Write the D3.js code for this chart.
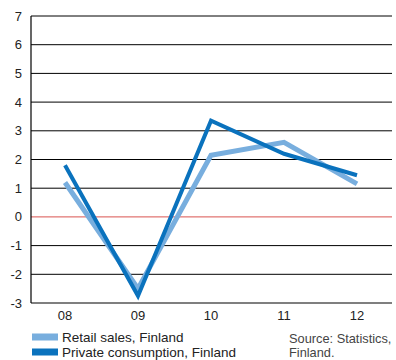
<!DOCTYPE html>
<html>
<head>
<meta charset="utf-8">
<script src="https://cdn.jsdelivr.net/npm/d3@7"></script>
<style>
  html, body { margin: 0; padding: 0; background: #fff; }
  svg { display: block; font-family: "Liberation Sans", Arial, sans-serif; }
</style>
</head>
<body>
<svg id="chart" width="396" height="360"></svg>
<script>
// Years on the x axis
const years = ["08", "09", "10", "11", "12"];
// Annual change, %
const retailSales = [1.2, -2.5, 2.15, 2.6, 1.15];
const privateConsumption = [1.8, -2.75, 3.35, 2.2, 1.45];
// y-axis ticks
const yTicks = [7, 6, 5, 4, 3, 2, 1, 0, -1, -2, -3];

const seriesNames = ["Retail sales, Finland", "Private consumption, Finland"];
const seriesColors = ["#78aede", "#0a72bd"];
const seriesWidths = [5, 4];

const svg = d3.select("#chart");
const plotLeft = 31, plotRight = 392, plotTop = 16, plotBottom = 303;

const x = d3.scalePoint().domain(years).range([65, 357]);
const y = d3.scaleLinear().domain([-3, 7]).range([plotBottom, plotTop]);

// Horizontal gridlines
svg.append("g").selectAll("line")
  .data(yTicks.filter(d => d !== -3))
  .join("line")
  .attr("x1", plotLeft).attr("x2", plotRight)
  .attr("y1", d => y(d)).attr("y2", d => y(d))
  .attr("stroke", d => d === 0 ? "#d9534f" : "#000")
  .attr("stroke-width", 1);

// Y tick labels
svg.append("g").selectAll("text")
  .data(yTicks)
  .join("text")
  .attr("x", 22).attr("y", d => y(d) + 4.5)
  .attr("text-anchor", "end")
  .attr("font-size", 13)
  .attr("fill", "#222")
  .text(d => d);

// Axis lines
svg.append("line").attr("x1", plotLeft).attr("x2", plotLeft).attr("y1", plotTop).attr("y2", plotBottom)
  .attr("stroke", "#000").attr("stroke-width", 1.2);
svg.append("line").attr("x1", plotLeft).attr("x2", plotRight).attr("y1", plotBottom).attr("y2", plotBottom)
  .attr("stroke", "#000").attr("stroke-width", 1.2);

// X labels
svg.append("g").selectAll("text")
  .data(years)
  .join("text")
  .attr("x", d => x(d)).attr("y", 320)
  .attr("text-anchor", "middle")
  .attr("font-size", 13)
  .attr("fill", "#222")
  .text(d => d);

// Lines
const line = d3.line().x((d, i) => x(years[i])).y(d => y(d));
[retailSales, privateConsumption].forEach((vals, k) => {
  svg.append("path")
    .attr("d", line(vals))
    .attr("fill", "none")
    .attr("stroke", seriesColors[k])
    .attr("stroke-width", seriesWidths[k])
    .attr("stroke-linejoin", "miter");
});

// Legend
const legend = svg.append("g");
seriesNames.forEach((name, k) => {
  const ly = 337 + k * 15;
  legend.append("rect").attr("x", 32).attr("y", ly - 3.5).attr("width", 26).attr("height", 7)
    .attr("fill", seriesColors[k]);
  legend.append("text").attr("x", 62).attr("y", ly + 5)
    .attr("font-size", 13.5).attr("fill", "#222").text(name);
});

// Source note
svg.append("text").attr("x", 289).attr("y", 343).attr("font-size", 12.8).attr("fill", "#444")
  .text("Source: Statistics,");
svg.append("text").attr("x", 289).attr("y", 357).attr("font-size", 12.8).attr("fill", "#444")
  .text("Finland.");
</script>
</body>
</html>
